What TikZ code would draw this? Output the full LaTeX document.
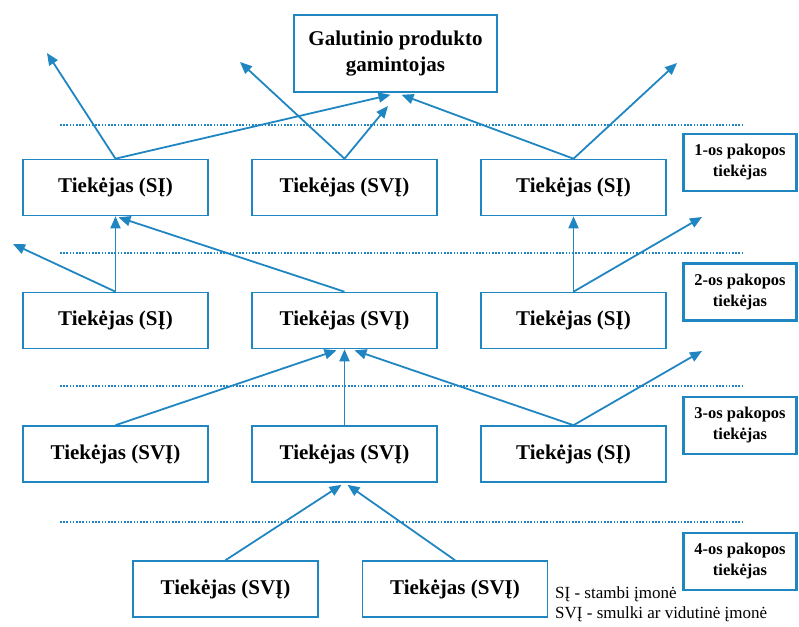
\documentclass[tikz,border=0pt]{standalone}
\usepackage{fontspec}
\setmainfont{Liberation Serif}
\usetikzlibrary{arrows.meta}
\definecolor{linkblue}{RGB}{32,134,194}
\begin{document}
\begin{tikzpicture}[x=1pt,y=-1pt,
  supplier/.style={draw=linkblue, line width=1.6pt, minimum width=185pt,
    minimum height=56pt, inner sep=0pt, font=\fontsize{21}{26}\selectfont\bfseries},
  producer/.style={supplier, minimum width=203pt, minimum height=77pt, align=center},
  tier/.style={draw=linkblue, line width=2.6pt, minimum width=113pt,
    minimum height=57pt, inner sep=0pt, align=center,
    font=\fontsize{16.5}{21}\selectfont\bfseries},
  link/.style={draw=linkblue, line width=1.8pt, -{Triangle[length=12pt,width=10pt]}},
  level/.style={draw=linkblue, line width=2pt, dash pattern=on 1.6pt off 1.6pt}]
\useasboundingbox (0,0) rectangle (799,626);

% tier separators
\foreach \yy/\nm in {125/l1,253/l2,386/l3,522/l4}{
  \coordinate (\nm a) at (60,\yy);
  \coordinate (\nm b) at (743,\yy);
  \draw[level] (\nm a) -- (\nm b);
}

% final producer
\node[producer] (top) at (395.5,53.5) {Galutinio produkto\\gamintojas};

% tier 1
\node[supplier] (a1) at (115.5,187.5) {Tiekėjas (SĮ)};
\node[supplier] (a2) at (344.5,187.5) {Tiekėjas (SVĮ)};
\node[supplier] (a3) at (573.5,187.5) {Tiekėjas (SĮ)};
% tier 2
\node[supplier] (b1) at (115.5,320.5) {Tiekėjas (SĮ)};
\node[supplier] (b2) at (344.5,320.5) {Tiekėjas (SVĮ)};
\node[supplier] (b3) at (573.5,320.5) {Tiekėjas (SĮ)};
% tier 3
\node[supplier] (c1) at (115.5,454) {Tiekėjas (SVĮ)};
\node[supplier] (c2) at (344.5,454) {Tiekėjas (SVĮ)};
\node[supplier] (c3) at (573.5,454) {Tiekėjas (SĮ)};
% tier 4
\node[supplier] (d1) at (225.5,589) {Tiekėjas (SVĮ)};
\node[supplier] (d2) at (455,589) {Tiekėjas (SVĮ)};

% tier labels
\node[tier] (t1) at (740,162.5) {1-os pakopos\\tiekėjas};
\node[tier] (t2) at (740,292) {2-os pakopos\\tiekėjas};
\node[tier] (t3) at (740,425.5) {3-os pakopos\\tiekėjas};
\node[tier] (t4) at (740,561.5) {4-os pakopos\\tiekėjas};

% legend
\node[anchor=north west, inner sep=0pt, align=left,
  font=\fontsize{17}{20}\selectfont] (legend) at (555,586)
  {SĮ - stambi įmonė\\SVĮ - smulki ar vidutinė įmonė};

% free ends of outgoing deliveries
\coordinate (fa1) at (47,53);
\coordinate (fa2) at (240,62);
\coordinate (fa3) at (677,63);
\coordinate (fb1) at (13,244);
\coordinate (fb3) at (702,217);
\coordinate (fc3) at (702,351);
\coordinate (na2) at (388,106);

% tier 1 deliveries
\draw[link] (a1.north) -- (fa1);
\draw[link] (a1.north) -- ([xshift=-5pt,yshift=-2pt]top.south);
\draw[link] (a2.north) -- (fa2);
\draw[link] (a2.north) -- (na2);
\draw[link] (a3.north) -- ([xshift=6pt,yshift=-2pt]top.south);
\draw[link] (a3.north) -- (fa3);
% tier 2 deliveries
\draw[link] (b1.north) -- (a1.south);
\draw[link] (b1.north) -- (fb1);
\draw[link] (b2.north) -- ([xshift=3pt,yshift=-1pt]a1.south);
\draw[link] (b3.north) -- (a3.south);
\draw[link] (b3.north) -- (fb3);
% tier 3 deliveries
\draw[link] (c1.north) -- ([xshift=-8pt,yshift=-1pt]b2.south);
\draw[link] (c2.north) -- (b2.south);
\draw[link] (c3.north) -- ([xshift=10pt,yshift=-1pt]b2.south);
\draw[link] (c3.north) -- (fc3);
% tier 4 deliveries
\draw[link] (d1.north) -- ([xshift=-3pt,yshift=-2pt]c2.south);
\draw[link] (d2.north) -- ([xshift=3pt,yshift=-2pt]c2.south);
\end{tikzpicture}
\end{document}
